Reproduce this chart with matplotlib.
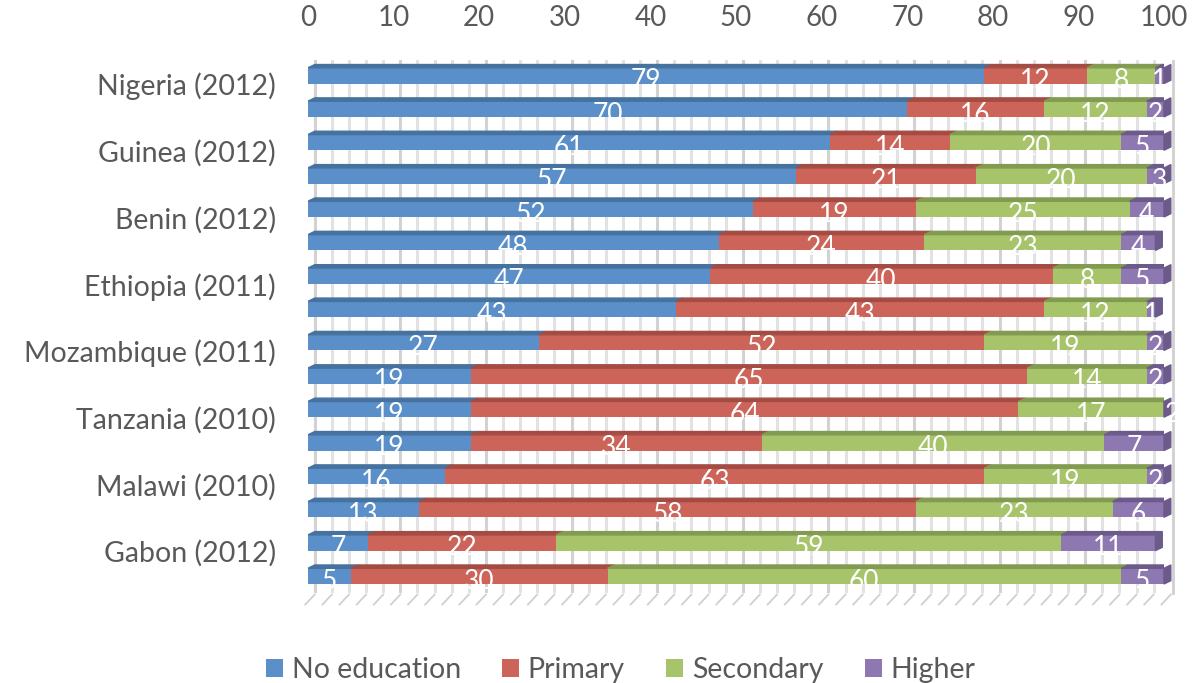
import matplotlib
matplotlib.use("Agg")
import matplotlib.pyplot as plt
from matplotlib.patches import Polygon
import numpy as np

# one bar per row, top to bottom; only every other row carries a country label
country_labels = ["Nigeria (2012)", "Guinea (2012)", "Benin (2012)", "Ethiopia (2011)",
                  "Mozambique (2011)", "Tanzania (2010)", "Malawi (2010)", "Gabon (2012)"]
no_education = [79, 70, 61, 57, 52, 48, 47, 43, 27, 19, 19, 19, 16, 13, 7, 5]
primary      = [12, 16, 14, 21, 19, 24, 40, 43, 52, 65, 64, 34, 63, 58, 22, 30]
secondary    = [8, 12, 20, 20, 25, 23, 8, 12, 19, 14, 17, 40, 19, 23, 59, 60]
higher       = [1, 2, 5, 3, 4, 4, 5, 1, 2, 2, 2, 7, 2, 6, 11, 5]
x_ticks = list(range(0, 101, 10))

SERIES = [
    ("No education", no_education, "#5b8fc9", "#46729f"),
    ("Primary",      primary,      "#cc645a", "#a44c44"),
    ("Secondary",    secondary,    "#a7c46b", "#819b50"),
    ("Higher",       higher,       "#8e78b1", "#6c5a8a"),
]

plt.rcParams["font.family"] = ["Lato", "DejaVu Sans"]
TXT = "#595959"

fig = plt.figure(figsize=(11.98, 6.83), dpi=100)
ax = fig.add_axes([0.257, 0.132, 0.7146, 0.7816])

n = len(no_education)
ypos = np.arange(n)
h = 0.47
dx, dy = 0.8, 0.1  # fake 3D depth

# back-wall gridlines and floor marks
for gx in range(0, 101, 2):
    c = "#d2d2d2" if gx % 10 == 0 else "#e2e2e2"
    ax.plot([gx + dx, gx + dx], [-0.45, n - 0.55], color=c, lw=2.2, zorder=0)
    ax.plot([gx + dx, gx - 0.3], [n - 0.45, n - 0.15], color="#d0d0d0", lw=1.3,
            zorder=0, clip_on=False)
ax.plot([100 + dx + 0.3, 100 + dx + 0.3], [-0.45, n - 0.5], color="#d0d0d0", lw=2,
        clip_on=False, zorder=0)

left = np.zeros(n)
for si, (name, vals, col, dark) in enumerate(SERIES):
    vals = np.array(vals, dtype=float)
    ax.barh(ypos, vals, left=left, height=h, color=col, label=name, zorder=2)
    for i in range(n):
        l, r = left[i], min(left[i] + vals[i], 100)
        top = ypos[i] - h / 2
        if r > l:
            ax.add_patch(Polygon([(l, top), (r, top), (r + dx, top - dy), (l + dx, top - dy)],
                                 closed=True, color=dark, zorder=2))
        if si == len(SERIES) - 1:
            ax.add_patch(Polygon([(r, top), (r + dx, top - dy), (r + dx, top + h - dy), (r, top + h)],
                                 closed=True, color=dark, zorder=2, clip_on=False))
        ax.text((left[i] + left[i] + vals[i]) / 2, ypos[i] + 0.15, f"{int(vals[i])}",
                ha="center", va="center", color="white", fontsize=19, zorder=3, clip_on=False)
    left += vals

ax.set_xlim(0, 100)
ax.set_ylim(n - 0.5, -0.5)
ax.xaxis.tick_top()
ax.set_xticks(x_ticks)
ax.set_xticklabels([str(t) for t in x_ticks])
ax.set_yticks(ypos[::2] + 0.25)
ax.set_yticklabels(country_labels)
ax.tick_params(axis="x", length=0, pad=20, labelsize=20, labelcolor=TXT)
ax.tick_params(axis="y", length=0, pad=23, labelsize=20.5, labelcolor=TXT)
for s in ax.spines.values():
    s.set_visible(False)

fig.legend(loc="lower center", bbox_to_anchor=(0.518, -0.038), ncol=4, frameon=False,
           fontsize=20.5, handlelength=0.6, handleheight=0.6, handletextpad=0.3,
           columnspacing=1.45, labelcolor=TXT)

fig.savefig("out.png", dpi=100)
